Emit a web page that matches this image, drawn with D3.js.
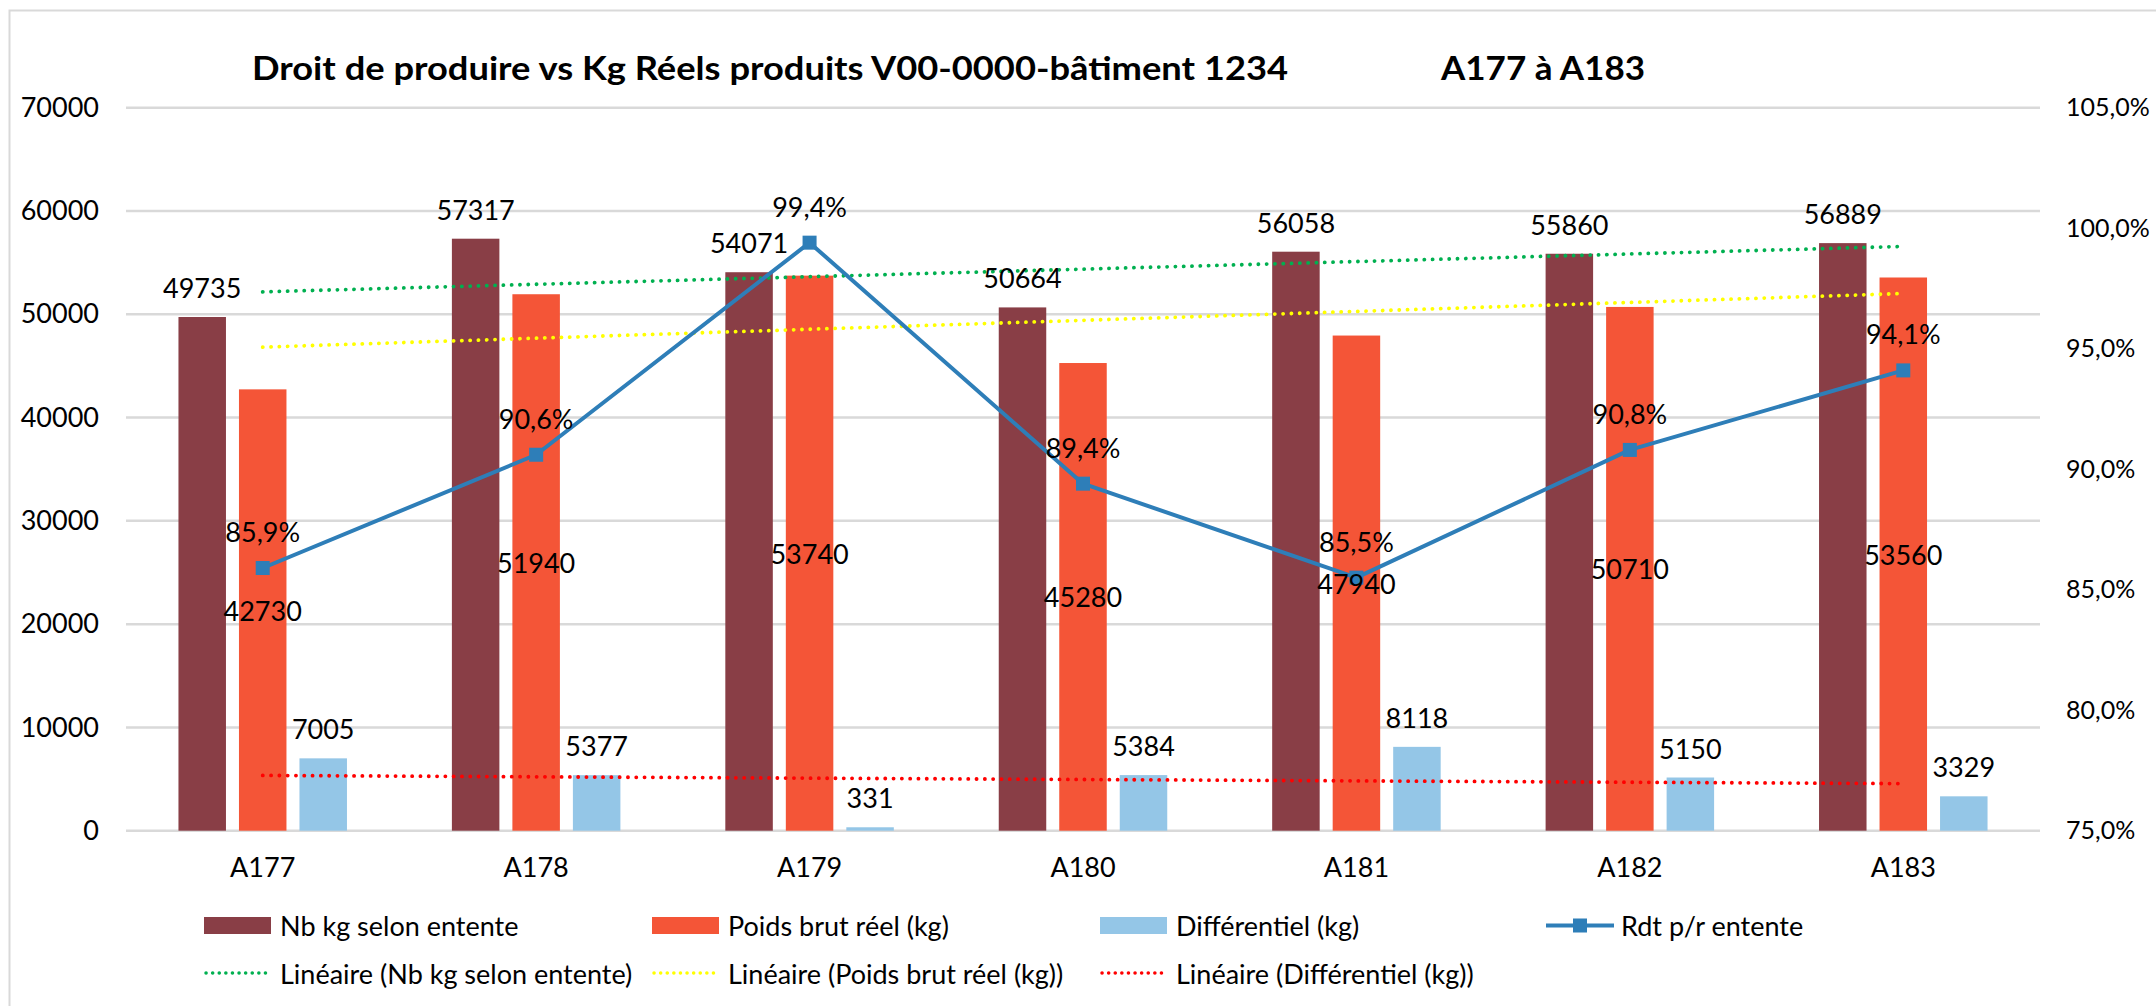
<!DOCTYPE html>
<html><head><meta charset="utf-8">
<script src="https://cdn.jsdelivr.net/npm/d3@7"></script>
<style>html,body{margin:0;padding:0;background:#fff;}svg{display:block;font-family:Lato,"Open Sans",sans-serif;}</style>
</head><body><svg id="c" width="2156" height="1006"></svg>
<script>
const categories = ["A177","A178","A179","A180","A181","A182","A183"];
const nbKgEntente = [49735,57317,54071,50664,56058,55860,56889];
const poidsBrutReel = [42730,51940,53740,45280,47940,50710,53560];
const differentiel = [7005,5377,331,5384,8118,5150,3329];
const rdtEntente = [0.859,0.906,0.994,0.894,0.855,0.908,0.941];
const leftTicks = [0,10000,20000,30000,40000,50000,60000,70000];
const rightTicks = [0.75,0.80,0.85,0.90,0.95,1.00,1.05];
const seriesNames = ["Nb kg selon entente","Poids brut réel (kg)","Différentiel (kg)"];
const trendNames = ["Linéaire (Nb kg selon entente)","Linéaire (Poids brut réel (kg))","Linéaire (Différentiel (kg))"];
const lineName = "Rdt p/r entente";
const titleMain = "Droit de produire vs Kg Réels produits V00-0000-bâtiment  1234";
const titleRange = "A177 à A183";

const colors = ["#893E46","#F45537","#94C6E7"];
const trendColors = ["#00B050","#FFFF00","#FF0000"];
const lineColor = "#2E7EB8";
const series = [nbKgEntente, poidsBrutReel, differentiel];

const svg = d3.select("#c");
svg.append("path").attr("d","M9.5,1006 L9.5,10.5 L2156,10.5")
  .attr("fill","none").attr("stroke","#D9D9D9").attr("stroke-width",2);

const x = d3.scaleBand().domain(categories).range([126,2040]).padding(0);
const inner = d3.scaleBand().domain([0,1,2]).range([0,168.5]).paddingInner(0.215).paddingOuter(0);
const innerOff = (x.bandwidth()-168.5)/2;
const y = d3.scaleLinear().domain([0,70000]).range([830.7,107.7]);
const y2 = d3.scaleLinear().domain([0.75,1.05]).range([830.7,107.7]);
const cx = c => x(c)+x.bandwidth()/2;
const fmtPct = v => d3.format(".1f")(v*100).replace(".",",")+"%";

// gridlines
svg.append("g").selectAll("line").data(leftTicks).join("line")
  .attr("x1",126).attr("x2",2040).attr("y1",d=>y(d)).attr("y2",d=>y(d))
  .attr("stroke","#D9D9D9").attr("stroke-width",2.5);

// left axis
const la = svg.append("g").attr("transform","translate(99,0)")
  .call(d3.axisLeft(y).tickValues(leftTicks).tickSize(0).tickPadding(0).tickFormat(d=>String(d)));
la.select(".domain").remove();
la.selectAll("text").attr("font-size",27).attr("fill","#000").attr("font-family","Lato");

// right axis
const ra = svg.append("g").attr("transform","translate(2066,0)")
  .call(d3.axisRight(y2).tickValues(rightTicks).tickSize(0).tickPadding(0).tickFormat(fmtPct));
ra.select(".domain").remove();
ra.selectAll("text").attr("font-size",25).attr("fill","#000").attr("font-family","Lato");

// x axis labels
const xa = svg.append("g").attr("transform","translate(0,830.7)")
  .call(d3.axisBottom(x).tickSize(0).tickPadding(0));
xa.select(".domain").remove();
xa.selectAll("text").attr("font-size",27).attr("fill","#000").attr("font-family","Lato").attr("dy",0).attr("y",46);

// bars
series.forEach((vals,si)=>{
  svg.append("g").selectAll("rect").data(vals).join("rect")
    .attr("x",(d,i)=>x(categories[i])+innerOff+inner(si))
    .attr("width",inner.bandwidth())
    .attr("y",d=>y(d)).attr("height",d=>y(0)-y(d))
    .attr("fill",colors[si]);
});

// trend lines (least squares)
function linReg(vals){
  const xs=vals.map((_,i)=>i);
  const mx=d3.mean(xs), my=d3.mean(vals);
  const b=d3.sum(xs.map((xi,i)=>(xi-mx)*(vals[i]-my)))/d3.sum(xs.map(xi=>(xi-mx)**2));
  const a=my-b*mx;
  return xs.map(xi=>a+b*xi);
}
series.forEach((vals,si)=>{
  const fit=linReg(vals);
  svg.append("line")
    .attr("x1",cx(categories[0])).attr("y1",y(fit[0]))
    .attr("x2",cx(categories[categories.length-1])).attr("y2",y(fit[fit.length-1]))
    .attr("stroke",trendColors[si]).attr("stroke-width",3.8)
    .attr("stroke-linecap","round").attr("stroke-dasharray","0.1 8.2");
});

// Rdt line
const line = d3.line().x((d,i)=>cx(categories[i])).y(d=>y2(d));
svg.append("path").datum(rdtEntente).attr("d",line).attr("fill","none")
  .attr("stroke",lineColor).attr("stroke-width",4).attr("stroke-linejoin","round");
svg.append("g").selectAll("rect").data(rdtEntente).join("rect")
  .attr("x",(d,i)=>cx(categories[i])-7).attr("y",d=>y2(d)-7)
  .attr("width",14).attr("height",14).attr("fill",lineColor);

// data labels
const lab = svg.append("g").attr("font-size",27).attr("fill","#000").attr("text-anchor","middle");
nbKgEntente.forEach((v,i)=>{
  lab.append("text").attr("x",x(categories[i])+innerOff+inner(0)+inner.bandwidth()/2).attr("y",y(v)-19).text(v);
});
poidsBrutReel.forEach((v,i)=>{
  lab.append("text").attr("x",x(categories[i])+innerOff+inner(1)+inner.bandwidth()/2)
    .attr("y",(y(v)+y(0))/2).attr("dominant-baseline","central").text(v);
});
differentiel.forEach((v,i)=>{
  lab.append("text").attr("x",x(categories[i])+innerOff+inner(2)+inner.bandwidth()/2).attr("y",y(v)-19).text(v);
});
rdtEntente.forEach((v,i)=>{
  lab.append("text").attr("x",cx(categories[i])).attr("y",y2(v)-26).text(fmtPct(v));
});

// title
svg.append("text").attr("x",252).attr("y",80).attr("font-size",32).attr("font-weight","bold")
  .attr("textLength",1036).attr("lengthAdjust","spacingAndGlyphs").text(titleMain);
svg.append("text").attr("x",1441).attr("y",80).attr("font-size",32).attr("font-weight","bold")
  .attr("textLength",204).attr("lengthAdjust","spacingAndGlyphs").text(titleRange);

// legend
const lg = svg.append("g").attr("font-size",27).attr("fill","#000");
const row1 = [204,652,1100];
seriesNames.forEach((n,i)=>{
  lg.append("rect").attr("x",row1[i]).attr("y",917).attr("width",67).attr("height",17).attr("fill",colors[i]);
  lg.append("text").attr("x",row1[i]+76).attr("y",925.5).attr("dominant-baseline","central").text(n);
});
lg.append("line").attr("x1",1546).attr("x2",1614).attr("y1",925.5).attr("y2",925.5).attr("stroke",lineColor).attr("stroke-width",4);
lg.append("rect").attr("x",1573).attr("y",918.5).attr("width",14).attr("height",14).attr("fill",lineColor);
lg.append("text").attr("x",1621).attr("y",925.5).attr("dominant-baseline","central").text(lineName);
trendNames.forEach((n,i)=>{
  lg.append("line").attr("x1",row1[i]+2).attr("x2",row1[i]+68).attr("y1",973).attr("y2",973)
    .attr("stroke",trendColors[i]).attr("stroke-width",3.5).attr("stroke-linecap","round").attr("stroke-dasharray","0.1 6.5");
  lg.append("text").attr("x",row1[i]+76).attr("y",973).attr("dominant-baseline","central").text(n);
});
</script></body></html>
